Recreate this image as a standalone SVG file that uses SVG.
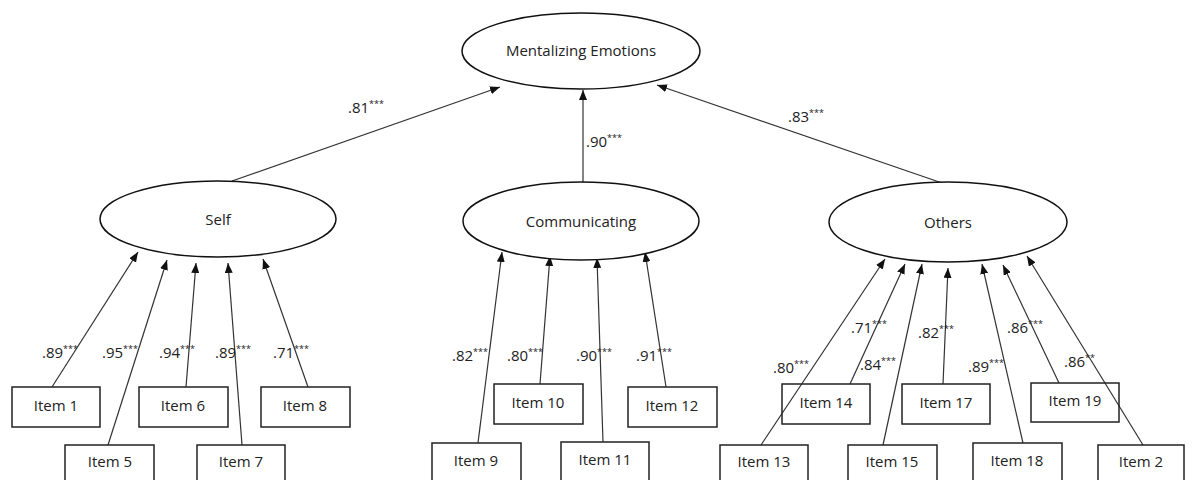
<svg xmlns="http://www.w3.org/2000/svg" width="1192" height="480" viewBox="0 0 1192 480">
<style>
.bg{fill:#fff}
.ell{fill:#fff;stroke:#111;stroke-width:1.5}
.box{fill:none;stroke:#222;stroke-width:1.5}
.lbl{font-family:"Open Sans","Noto Sans",sans-serif;font-size:15px;fill:#222;text-anchor:middle}
.num{font-family:"Open Sans","Noto Sans",sans-serif;font-size:15px;fill:#222}
.sup{font-size:9px}
.con line{stroke:#333;stroke-width:1.2;marker-end:url(#arr)}
</style>
<defs>
<marker id="arr" markerUnits="userSpaceOnUse" markerWidth="10" markerHeight="8" refX="10" refY="4" orient="auto">
<path d="M0,0 L10,4 L0,8 z" fill="#111"/>
</marker>
</defs>
<rect class="bg" x="0" y="0" width="1192" height="480"/>

<g id="connectors" class="con">
<line x1="232" y1="181" x2="500" y2="87"/>
<line x1="583" y1="182" x2="583" y2="90"/>
<line x1="945" y1="184" x2="657" y2="85"/>
<line x1="52" y1="387" x2="138" y2="252"/>
<line x1="108" y1="445" x2="167" y2="260"/>
<line x1="186" y1="387" x2="196" y2="263"/>
<line x1="242" y1="445" x2="228" y2="263"/>
<line x1="308" y1="387" x2="263" y2="259"/>
<line x1="478" y1="443" x2="502" y2="252"/>
<line x1="540" y1="384" x2="550" y2="256"/>
<line x1="603" y1="442" x2="597" y2="258"/>
<line x1="666" y1="387" x2="645" y2="252"/>
<line x1="761" y1="445" x2="885" y2="259"/>
<line x1="850" y1="384" x2="905" y2="264"/>
<line x1="883" y1="445" x2="922" y2="264"/>
<line x1="943" y1="384" x2="948" y2="268"/>
<line x1="1023" y1="443" x2="982" y2="264"/>
<line x1="1059" y1="383" x2="1003" y2="265"/>
<line x1="1143" y1="445" x2="1027" y2="256"/>
</g>

<g id="coefficients">
<text class="num" x="348" y="113">.81<tspan class="sup" dy="-6">***</tspan></text>
<text class="num" x="586" y="147">.90<tspan class="sup" dy="-6">***</tspan></text>
<text class="num" x="788" y="122">.83<tspan class="sup" dy="-6">***</tspan></text>
<text class="num" x="42" y="358">.89<tspan class="sup" dy="-6">***</tspan></text>
<text class="num" x="102" y="358">.95<tspan class="sup" dy="-6">***</tspan></text>
<text class="num" x="159" y="358">.94<tspan class="sup" dy="-6">***</tspan></text>
<text class="num" x="215" y="358">.89<tspan class="sup" dy="-6">***</tspan></text>
<text class="num" x="273" y="358">.71<tspan class="sup" dy="-6">***</tspan></text>
<text class="num" x="452" y="361">.82<tspan class="sup" dy="-6">***</tspan></text>
<text class="num" x="507" y="361">.80<tspan class="sup" dy="-6">***</tspan></text>
<text class="num" x="576" y="361">.90<tspan class="sup" dy="-6">***</tspan></text>
<text class="num" x="636" y="361">.91<tspan class="sup" dy="-6">***</tspan></text>
<text class="num" x="773" y="373">.80<tspan class="sup" dy="-6">***</tspan></text>
<text class="num" x="851" y="333">.71<tspan class="sup" dy="-6">***</tspan></text>
<text class="num" x="860" y="370">.84<tspan class="sup" dy="-6">***</tspan></text>
<text class="num" x="918" y="338">.82<tspan class="sup" dy="-6">***</tspan></text>
<text class="num" x="968" y="372">.89<tspan class="sup" dy="-6">***</tspan></text>
<text class="num" x="1007" y="333">.86<tspan class="sup" dy="-6">***</tspan></text>
<text class="num" x="1064" y="367">.86<tspan class="sup" dy="-6">**</tspan></text>
</g>

<g id="mentalizing-emotions"><ellipse class="ell" cx="581" cy="51" rx="119" ry="38"/><text class="lbl" x="581" y="56">Mentalizing Emotions</text></g>
<g id="self"><ellipse class="ell" cx="218" cy="219" rx="118" ry="38"/><text class="lbl" x="218" y="225">Self</text></g>
<g id="communicating"><ellipse class="ell" cx="581" cy="221" rx="118" ry="39"/><text class="lbl" x="581" y="227">Communicating</text></g>
<g id="others"><ellipse class="ell" cx="948" cy="222" rx="119" ry="40"/><text class="lbl" x="948" y="228">Others</text></g>

<g id="item1"><rect class="box" x="12" y="387" width="88" height="40"/><text class="lbl" x="56" y="411">Item 1</text></g>
<g id="item6"><rect class="box" x="139" y="387" width="89" height="40"/><text class="lbl" x="183" y="411">Item 6</text></g>
<g id="item8"><rect class="box" x="261" y="387" width="89" height="40"/><text class="lbl" x="305" y="411">Item 8</text></g>
<g id="item5"><rect class="box" x="65" y="445" width="89" height="42"/><text class="lbl" x="110" y="467">Item 5</text></g>
<g id="item7"><rect class="box" x="197" y="445" width="88" height="42"/><text class="lbl" x="241" y="467">Item 7</text></g>

<g id="item10"><rect class="box" x="494" y="384" width="89" height="40"/><text class="lbl" x="538" y="408">Item 10</text></g>
<g id="item12"><rect class="box" x="628" y="387" width="89" height="40"/><text class="lbl" x="672" y="411">Item 12</text></g>
<g id="item9"><rect class="box" x="432" y="443" width="89" height="44"/><text class="lbl" x="476" y="466">Item 9</text></g>
<g id="item11"><rect class="box" x="561" y="442" width="88" height="45"/><text class="lbl" x="605" y="465">Item 11</text></g>

<g id="item14"><rect class="box" x="782" y="384" width="88" height="40"/><text class="lbl" x="826" y="408">Item 14</text></g>
<g id="item17"><rect class="box" x="902" y="384" width="88" height="40"/><text class="lbl" x="946" y="408">Item 17</text></g>
<g id="item19"><rect class="box" x="1031" y="383" width="88" height="39"/><text class="lbl" x="1075" y="406">Item 19</text></g>
<g id="item13"><rect class="box" x="720" y="445" width="88" height="42"/><text class="lbl" x="764" y="467">Item 13</text></g>
<g id="item15"><rect class="box" x="848" y="445" width="89" height="42"/><text class="lbl" x="892" y="467">Item 15</text></g>
<g id="item18"><rect class="box" x="973" y="443" width="89" height="44"/><text class="lbl" x="1017" y="466">Item 18</text></g>
<g id="item2"><rect class="box" x="1098" y="445" width="86" height="42"/><text class="lbl" x="1141" y="467">Item 2</text></g>
</svg>
